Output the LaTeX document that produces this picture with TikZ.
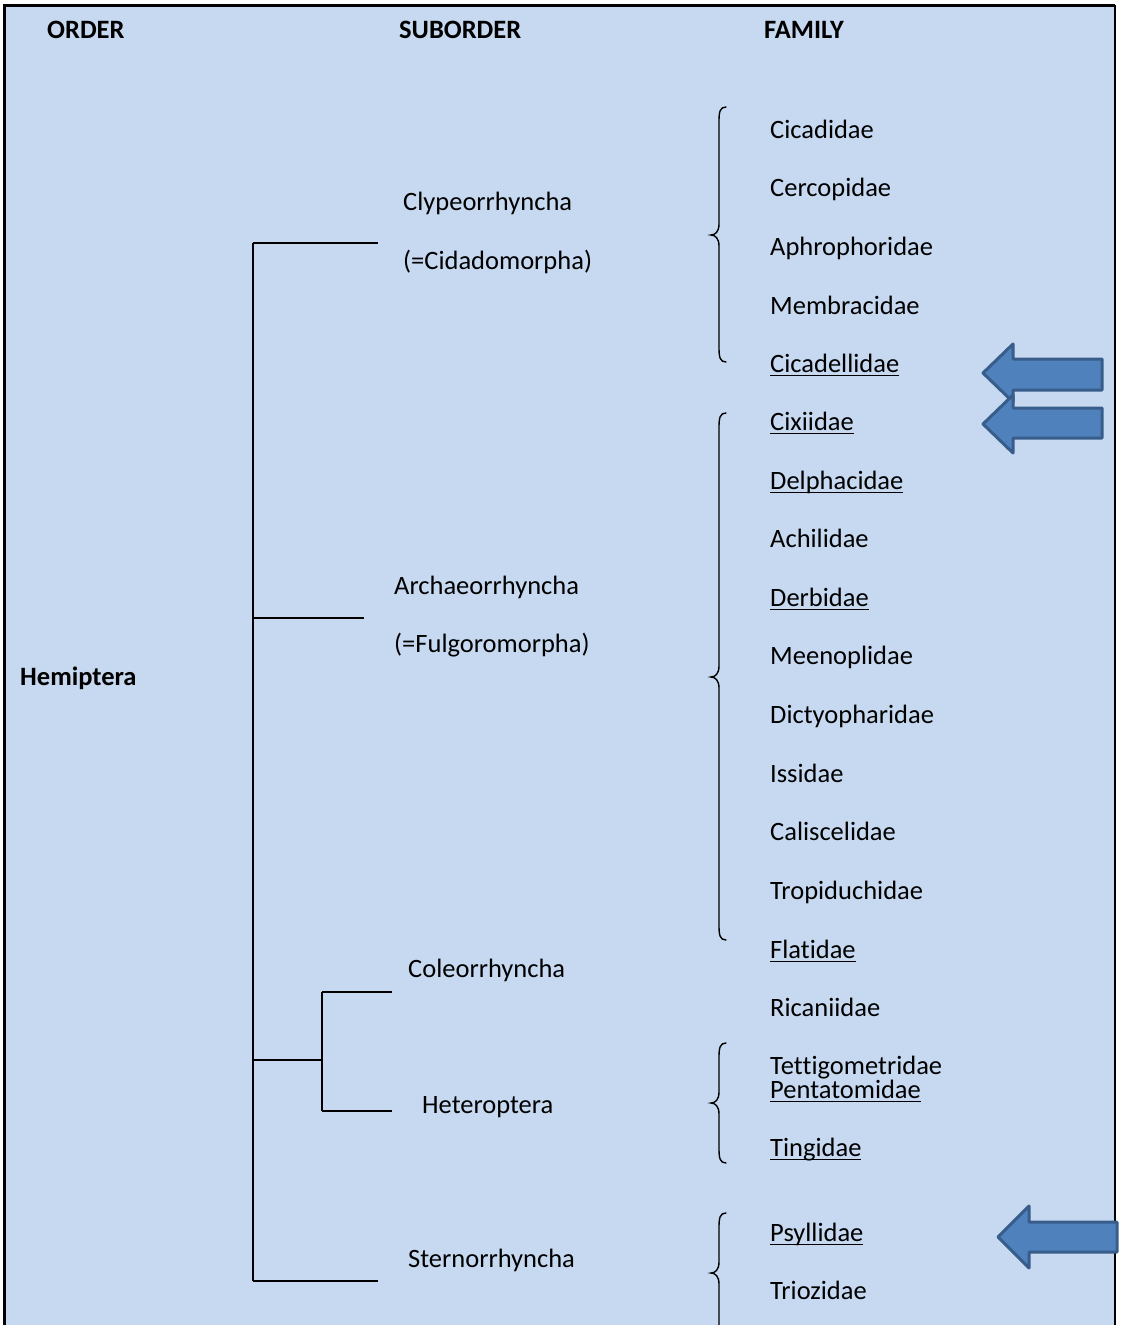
\documentclass[tikz,border=0pt]{standalone}
\usepackage{fontspec}
\setmainfont{Carlito}[Ligatures={NoCommon,NoRare,NoContextual}]
\definecolor{bg}{HTML}{C6D9F0}
\definecolor{arrfill}{HTML}{4F81BD}
\definecolor{arrline}{HTML}{385D8A}
\newcommand\undl[1]{\setbox0\hbox{#1}\rlap{\rule[-4pt]{\wd0}{1.5pt}}\box0}
\begin{document}
\begin{tikzpicture}[x=1pt,y=-1pt,
  txt/.style={anchor=base west,inner sep=0pt,font=\fontsize{26.5}{30}\selectfont},
  hdr/.style={anchor=base west,inner sep=0pt,font=\fontsize{26.5}{30}\selectfont\bfseries},
  tree/.style={line width=2pt},
  bracepath/.style={line width=1.4pt,line cap=round},
  blockarrow/.style={fill=arrfill,draw=arrline,line width=3pt,line join=round}]
\useasboundingbox (0,0) rectangle (1124,1325);
\fill[bg] (4,5) rectangle (1115,1325);
\draw[line width=3pt] (4,1325) -- (4,5) -- (1115,5);
\draw[line width=2pt] (1115,5) -- (1115,1325);

% headers
\node[hdr] (hOrder) at (47,38) {ORDER};
\node[hdr] (hSub) at (399,38) {SUBORDER};
\node[hdr] (hFam) at (764,38) {FAMILY};

% order
\node[hdr] (hemi) at (20,685) {Hemiptera};

% suborders
\node[txt] (clyp) at (403,210) {Clypeorrhyncha};
\node[txt] (clyp2) at (403,269) {(=Cidadomorpha)};
\node[txt] (arch) at (394,594) {Archaeorrhyncha};
\node[txt] (arch2) at (394,652) {(=Fulgoromorpha)};
\node[txt] (cole) at (408,977) {Coleorrhyncha};
\node[txt] (hete) at (422,1113) {Heteroptera};
\node[txt] (ster) at (408,1267) {Sternorrhyncha};

% families
\node[txt] (f1) at (770,138) {Cicadidae};
\node[txt] (f2) at (770,196.5) {Cercopidae};
\node[txt] (f3) at (770,255) {Aphrophoridae};
\node[txt] (f4) at (770,314) {Membracidae};
\node[txt] (f5) at (770,372) {\undl{Cicadellidae}};
\node[txt] (f6) at (770,430) {\undl{Cixiidae}};
\node[txt] (f7) at (770,489) {\undl{Delphacidae}};
\node[txt] (f8) at (770,547) {Achilidae};
\node[txt] (f9) at (770,606) {\undl{Derbidae}};
\node[txt] (f10) at (770,664) {Meenoplidae};
\node[txt] (f11) at (770,723) {Dictyopharidae};
\node[txt] (f12) at (770,782) {Issidae};
\node[txt] (f13) at (770,840) {Caliscelidae};
\node[txt] (f14) at (770,899) {Tropiduchidae};
\node[txt] (f15) at (770,958) {\undl{Flatidae}};
\node[txt] (f16) at (770,1016) {Ricaniidae};
\node[txt] (f17) at (770,1074) {Tet\kern0pt t\kern0pt igometridae};
\node[txt] (f18) at (770,1098) {\undl{Pentatomidae}};
\node[txt] (f19) at (770,1156) {\undl{Tingidae}};
\node[txt] (f20) at (770,1241) {\undl{Psyllidae}};
\node[txt] (f21) at (770,1299) {Triozidae};

% tree
\coordinate (t1) at (253,243);
\coordinate (t2) at (253,618);
\coordinate (t3) at (253,1060);
\coordinate (t4) at (253,1281);
\coordinate (e1) at (378,243);
\coordinate (e2) at (364,618);
\coordinate (s1) at (322,1060);
\coordinate (s2) at (322,992);
\coordinate (s3) at (322,1111);
\coordinate (e3) at (392,992);
\coordinate (e4) at (392,1111);
\coordinate (e5) at (378,1281);
\draw[tree] (t1) -- (t4);
\draw[tree] (t1) -- (e1);
\draw[tree] (t2) -- (e2);
\draw[tree] (t3) -- (s1);
\draw[tree] (s2) -- (s3);
\draw[tree] (s2) -- (e3);
\draw[tree] (s3) -- (e4);
\draw[tree] (t4) -- (e5);

% braces
\foreach \yt/\ym/\yb in {107/235/362, 413/677/940, 1043/1103/1163, 1213/1273/1345}{
  \draw[bracepath] (726,\yt) .. controls (720,\yt) and (719,\yt+5) .. (719,\yt+14)
    -- (719,\ym-11) .. controls (719,\ym-3) and (715,\ym) .. (711,\ym)
    .. controls (715,\ym) and (719,\ym+3) .. (719,\ym+11)
    -- (719,\yb-14) .. controls (719,\yb-5) and (720,\yb) .. (726,\yb);
}

% block arrows
\draw[blockarrow] (1102,359) -- (1013,359) -- (1013,344) -- (983,373) -- (1013,402) -- (1013,390) -- (1102,390) -- cycle;
\draw[blockarrow] (1102,408) -- (1013,408) -- (1013,395) -- (983,424) -- (1013,453) -- (1013,438) -- (1102,438) -- cycle;
\draw[blockarrow] (1117,1222) -- (1029,1222) -- (1029,1206) -- (998,1237) -- (1029,1268) -- (1029,1252) -- (1117,1252) -- cycle;
\end{tikzpicture}
\end{document}
